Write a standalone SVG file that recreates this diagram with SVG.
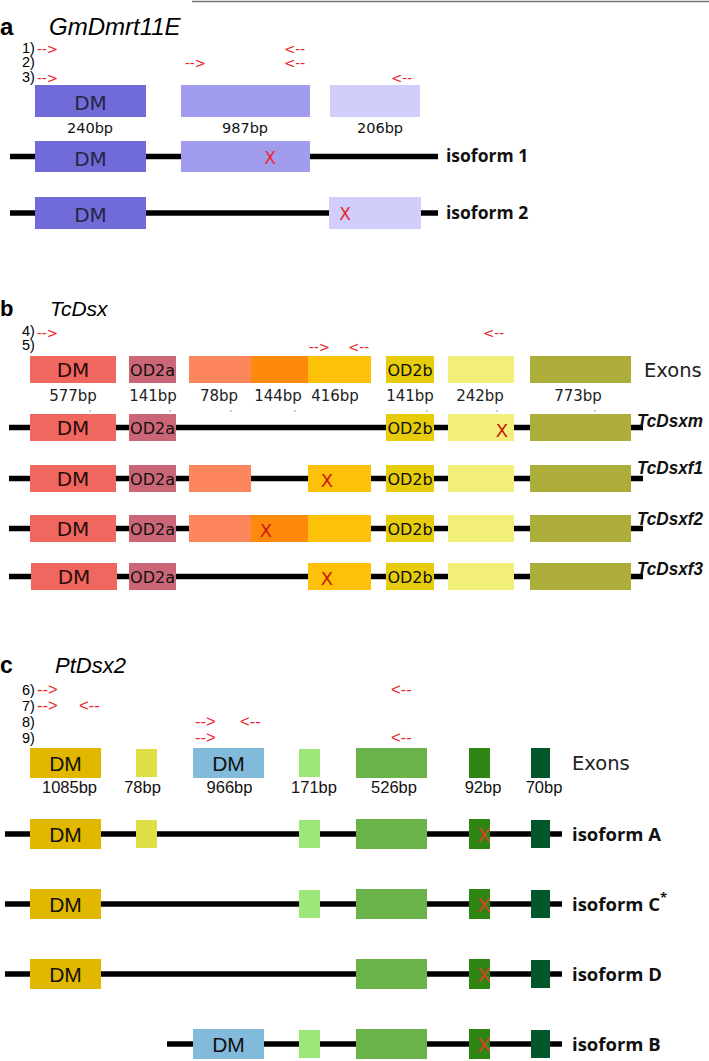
<svg xmlns="http://www.w3.org/2000/svg" width="709" height="1061" viewBox="0 0 709 1061">
<style>
.intron{stroke:#000;stroke-width:5.5;fill:none}
.panel{font-family:"Liberation Sans",Arial,sans-serif;font-weight:bold;fill:#000}
.gene{font-family:"Liberation Sans",Arial,sans-serif;font-style:italic;fill:#000}
.plab{font-family:"Liberation Sans",Arial,sans-serif;font-size:14.5px;fill:#000}
.pr{font-family:"DejaVu Sans",sans-serif;font-size:13.5px;fill:#e8232a}
.prc{font-family:"Liberation Sans",Arial,sans-serif;font-size:16.5px;fill:#e8232a}
.dv{font-family:"DejaVu Sans",sans-serif;text-anchor:middle}
.ls{font-family:"Liberation Sans",Arial,sans-serif;text-anchor:middle}
.iso{font-family:"Open Sans","Liberation Sans",sans-serif;font-weight:bold;fill:#111}
.isob{font-family:"Liberation Sans",Arial,sans-serif;font-weight:bold;font-style:italic;font-size:19px;fill:#111}
.xa{font-family:"DejaVu Sans",sans-serif;font-size:17px;fill:#e8282e;text-anchor:middle}
.xb{font-family:"DejaVu Sans",sans-serif;font-size:18px;fill:#cc1a0e;text-anchor:middle}
.xc{font-family:"Liberation Sans",Arial,sans-serif;font-size:20px;fill:#e83a28;text-anchor:middle;opacity:0.92}
.exons{font-family:"DejaVu Sans",sans-serif;font-size:19.5px;fill:#222}
.dot{fill:#999}
</style>

<line x1="192" y1="1.5" x2="709" y2="1.5" stroke="#777" stroke-width="1.5"/>

<!-- connectors: intron lines -->
<g id="connectors">
  <line class="intron" x1="10" y1="156.5" x2="438" y2="156.5"/>
  <line class="intron" x1="10" y1="213" x2="438" y2="213"/>
  <line class="intron" x1="9" y1="427.5" x2="643" y2="427.5"/>
  <line class="intron" x1="9" y1="478.5" x2="643" y2="478.5"/>
  <line class="intron" x1="9" y1="528.5" x2="643" y2="528.5"/>
  <line class="intron" x1="9" y1="576.5" x2="643" y2="576.5"/>
  <line class="intron" x1="5" y1="834" x2="562" y2="834"/>
  <line class="intron" x1="5" y1="904" x2="562" y2="904"/>
  <line class="intron" x1="5" y1="974" x2="562" y2="974"/>
  <line class="intron" x1="167" y1="1044" x2="562" y2="1044"/>
</g>

<!-- ================= Panel a ================= -->
<g id="panel-a-title">
  <text class="panel" x="0" y="35" font-size="24">a</text>
  <text class="gene" x="49" y="35" font-size="24">GmDmrt11E</text>
</g>
<g id="primers-a">
  <text class="plab" x="22" y="53">1)</text>
  <text class="plab" x="22" y="67">2)</text>
  <text class="plab" x="22" y="82">3)</text>
  <text class="pr" x="37" y="54">--&gt;</text>
  <text class="pr" x="284" y="54">&lt;--</text>
  <text class="pr" x="185" y="68">--&gt;</text>
  <text class="pr" x="284" y="68">&lt;--</text>
  <text class="pr" x="37" y="83">--&gt;</text>
  <text class="pr" x="391" y="83">&lt;--</text>
</g>
<g id="exons-a">
  <rect x="35" y="85" width="111" height="32" fill="#706BD8"/>
  <text class="dv" x="90.5" y="110" font-size="20" fill="#262640">DM</text>
  <rect x="181" y="85" width="129" height="32" fill="#A29CEE"/>
  <rect x="330" y="85" width="90" height="32" fill="#D1CEFB"/>
  <text class="dv" x="90" y="133" font-size="14.5" fill="#111">240bp</text>
  <text class="dv" x="245" y="133" font-size="14.5" fill="#111">987bp</text>
  <text class="dv" x="380" y="133" font-size="14.5" fill="#111">206bp</text>
</g>
<g id="isoform-1">
  <rect x="35" y="141" width="111" height="31" fill="#706BD8"/>
  <text class="dv" x="90.5" y="165.5" font-size="20" fill="#262640">DM</text>
  <rect x="181" y="141" width="129" height="31" fill="#A29CEE"/>
  <text class="xa" x="270" y="163.5">X</text>
  <text class="iso" x="446" y="162" font-size="17.5">isoform 1</text>
</g>
<g id="isoform-2">
  <rect x="35" y="197" width="111" height="32" fill="#706BD8"/>
  <text class="dv" x="90.5" y="222" font-size="20" fill="#262640">DM</text>
  <rect x="329" y="197" width="92" height="32" fill="#D1CEFB"/>
  <text class="xa" x="345" y="219.5">X</text>
  <text class="iso" x="446" y="219" font-size="17.5">isoform 2</text>
</g>

<!-- ================= Panel b ================= -->
<g id="panel-b-title">
  <text class="panel" x="0" y="316" font-size="22">b</text>
  <text class="gene" x="50" y="316" font-size="21">TcDsx</text>
</g>
<g id="primers-b">
  <text class="plab" x="22" y="336">4)</text>
  <text class="plab" x="22" y="350">5)</text>
  <text class="pr" x="37" y="338">--&gt;</text>
  <text class="pr" x="483" y="338">&lt;--</text>
  <text class="pr" x="309" y="352">--&gt;</text>
  <text class="pr" x="348" y="352">&lt;--</text>
</g>
<g id="exons-b">
  <rect x="30" y="356" width="86" height="27" fill="#F0675F"/>
  <rect x="129" y="356" width="47" height="27" fill="#CB6676"/>
  <rect x="189" y="356" width="62" height="27" fill="#FE865C"/>
  <rect x="251" y="356" width="57" height="27" fill="#FD8A0C"/>
  <rect x="308" y="356" width="63" height="27" fill="#FDC10A"/>
  <rect x="386" y="356" width="48" height="27" fill="#E6CC0A"/>
  <rect x="448" y="356" width="66" height="27" fill="#F2EE7A"/>
  <rect x="530" y="356" width="101" height="27" fill="#ADAD3A"/>
  <text class="dv" x="73" y="377" font-size="20" fill="#2a0c0c">DM</text>
  <text class="dv" x="152.5" y="376" font-size="16" fill="#111">OD2a</text>
  <text class="dv" x="410" y="376" font-size="16" fill="#111">OD2b</text>
  <text class="exons" x="644" y="377">Exons</text>
  <g font-size="15" fill="#222">
    <text class="dv" x="73" y="401">577bp</text>
    <text class="dv" x="153" y="401">141bp</text>
    <text class="dv" x="219" y="401">78bp</text>
    <text class="dv" x="278" y="401">144bp</text>
    <text class="dv" x="335" y="401">416bp</text>
    <text class="dv" x="410" y="401">141bp</text>
    <text class="dv" x="480" y="401">242bp</text>
    <text class="dv" x="578" y="401">773bp</text>
  </g>
  <rect class="dot" x="89.5" y="410" width="1" height="2"/>
  <rect class="dot" x="169.5" y="410" width="1" height="2"/>
  <rect class="dot" x="230.5" y="410" width="1" height="2"/>
  <rect class="dot" x="294.5" y="410" width="1" height="2"/>
  <rect class="dot" x="426.5" y="410" width="1" height="2"/>
  <rect class="dot" x="496.5" y="410" width="1" height="2"/>
  <rect class="dot" x="594.5" y="410" width="1" height="2"/>
</g>
<g id="TcDsxm">
  <rect x="30" y="414" width="86" height="27" fill="#F0675F"/>
  <rect x="129" y="414" width="47" height="27" fill="#CB6676"/>
  <rect x="386" y="414" width="48" height="27" fill="#E6CC0A"/>
  <rect x="448" y="414" width="66" height="27" fill="#F2EE7A"/>
  <rect x="530" y="414" width="101" height="27" fill="#ADAD3A"/>
  <text class="dv" x="73" y="435" font-size="20" fill="#2a0c0c">DM</text>
  <text class="dv" x="152.5" y="434" font-size="16" fill="#111">OD2a</text>
  <text class="dv" x="410" y="434" font-size="16" fill="#111">OD2b</text>
  <text class="xb" x="502" y="437">X</text>
  <text class="isob" x="637" y="427" textLength="66" lengthAdjust="spacingAndGlyphs">TcDsxm</text>
</g>
<g id="TcDsxf1">
  <rect x="30" y="465" width="86" height="27" fill="#F0675F"/>
  <rect x="129" y="465" width="47" height="27" fill="#CB6676"/>
  <rect x="189" y="465" width="62" height="27" fill="#FE865C"/>
  <rect x="308" y="465" width="63" height="27" fill="#FDC10A"/>
  <rect x="386" y="465" width="48" height="27" fill="#E6CC0A"/>
  <rect x="448" y="465" width="66" height="27" fill="#F2EE7A"/>
  <rect x="530" y="465" width="101" height="27" fill="#ADAD3A"/>
  <text class="dv" x="73" y="486" font-size="20" fill="#2a0c0c">DM</text>
  <text class="dv" x="152.5" y="485" font-size="16" fill="#111">OD2a</text>
  <text class="dv" x="410" y="485" font-size="16" fill="#111">OD2b</text>
  <text class="xb" x="327" y="487">X</text>
  <text class="isob" x="637" y="474" textLength="66" lengthAdjust="spacingAndGlyphs">TcDsxf1</text>
</g>
<g id="TcDsxf2">
  <rect x="30" y="515" width="86" height="27" fill="#F0675F"/>
  <rect x="129" y="515" width="47" height="27" fill="#CB6676"/>
  <rect x="189" y="515" width="62" height="27" fill="#FE865C"/>
  <rect x="251" y="515" width="57" height="27" fill="#FD8A0C"/>
  <rect x="308" y="515" width="63" height="27" fill="#FDC10A"/>
  <rect x="386" y="515" width="48" height="27" fill="#E6CC0A"/>
  <rect x="448" y="515" width="66" height="27" fill="#F2EE7A"/>
  <rect x="530" y="515" width="101" height="27" fill="#ADAD3A"/>
  <text class="dv" x="73" y="536" font-size="20" fill="#2a0c0c">DM</text>
  <text class="dv" x="152.5" y="535" font-size="16" fill="#111">OD2a</text>
  <text class="dv" x="410" y="535" font-size="16" fill="#111">OD2b</text>
  <text class="xb" x="266" y="537">X</text>
  <text class="isob" x="637" y="525" textLength="66" lengthAdjust="spacingAndGlyphs">TcDsxf2</text>
</g>
<g id="TcDsxf3">
  <rect x="31" y="563" width="86" height="27" fill="#F0675F"/>
  <rect x="129" y="563" width="47" height="27" fill="#CB6676"/>
  <rect x="308" y="563" width="63" height="27" fill="#FDC10A"/>
  <rect x="386" y="563" width="48" height="27" fill="#E6CC0A"/>
  <rect x="448" y="563" width="66" height="27" fill="#F2EE7A"/>
  <rect x="530" y="563" width="101" height="27" fill="#ADAD3A"/>
  <text class="dv" x="74" y="584" font-size="20" fill="#2a0c0c">DM</text>
  <text class="dv" x="152.5" y="583" font-size="16" fill="#111">OD2a</text>
  <text class="dv" x="410" y="583" font-size="16" fill="#111">OD2b</text>
  <text class="xb" x="327" y="585">X</text>
  <text class="isob" x="637" y="575" textLength="66" lengthAdjust="spacingAndGlyphs">TcDsxf3</text>
</g>

<!-- ================= Panel c ================= -->
<g id="panel-c-title">
  <text class="panel" x="0" y="673" font-size="23">c</text>
  <text class="gene" x="55" y="673" font-size="22">PtDsx2</text>
</g>
<g id="primers-c">
  <text class="plab" x="22" y="695" font-size="15.5">6)</text>
  <text class="plab" x="22" y="711" font-size="15.5">7)</text>
  <text class="plab" x="22" y="727" font-size="15.5">8)</text>
  <text class="plab" x="22" y="743" font-size="15.5">9)</text>
  <text class="prc" x="37" y="695">--&gt;</text>
  <text class="prc" x="391" y="695">&lt;--</text>
  <text class="prc" x="37" y="711">--&gt;</text>
  <text class="prc" x="79" y="711">&lt;--</text>
  <text class="prc" x="195" y="727">--&gt;</text>
  <text class="prc" x="240" y="727">&lt;--</text>
  <text class="prc" x="195" y="743">--&gt;</text>
  <text class="prc" x="391" y="743">&lt;--</text>
</g>
<g id="exons-c">
  <rect x="30" y="748" width="71" height="30" fill="#E2B700"/>
  <rect x="136" y="749" width="21" height="28" fill="#DEDE45"/>
  <rect x="193" y="748" width="71" height="30" fill="#82BADB"/>
  <rect x="299" y="749" width="21" height="28" fill="#9DE67A"/>
  <rect x="356" y="748" width="71" height="30" fill="#6AB34B"/>
  <rect x="469" y="748" width="21" height="30" fill="#2F8512"/>
  <rect x="531" y="748" width="19" height="30" fill="#02582A"/>
  <text class="ls" x="65.5" y="771" font-size="21" fill="#111">DM</text>
  <text class="ls" x="228.5" y="771" font-size="21" fill="#111">DM</text>
  <text class="exons" x="572" y="770">Exons</text>
  <g font-size="16.5" fill="#111">
    <text class="ls" x="69.5" y="793">1085bp</text>
    <text class="ls" x="142.5" y="793">78bp</text>
    <text class="ls" x="229.5" y="793">966bp</text>
    <text class="ls" x="314" y="793">171bp</text>
    <text class="ls" x="394" y="793">526bp</text>
    <text class="ls" x="483" y="793">92bp</text>
    <text class="ls" x="544" y="793">70bp</text>
  </g>
</g>
<g id="isoform-A">
  <rect x="30" y="819" width="71" height="30" fill="#E2B700"/>
  <rect x="136" y="820" width="21" height="28" fill="#DEDE45"/>
  <rect x="299" y="820" width="21" height="28" fill="#9DE67A"/>
  <rect x="356" y="819" width="71" height="30" fill="#6AB34B"/>
  <rect x="469" y="819" width="21" height="30" fill="#2F8512"/>
  <rect x="531" y="820" width="19" height="28" fill="#02582A"/>
  <text class="ls" x="65.5" y="842" font-size="21" fill="#111">DM</text>
  <text class="xc" x="484" y="842">X</text>
  <text class="iso" x="572" y="841" font-size="18.5">isoform A</text>
</g>
<g id="isoform-C">
  <rect x="30" y="889" width="71" height="30" fill="#E2B700"/>
  <rect x="299" y="890" width="21" height="28" fill="#9DE67A"/>
  <rect x="356" y="889" width="71" height="30" fill="#6AB34B"/>
  <rect x="469" y="889" width="21" height="30" fill="#2F8512"/>
  <rect x="531" y="890" width="19" height="28" fill="#02582A"/>
  <text class="ls" x="65.5" y="912" font-size="21" fill="#111">DM</text>
  <text class="xc" x="484" y="912">X</text>
  <text class="iso" x="572" y="911" font-size="18.5">isoform C<tspan font-size="13" dy="-9">*</tspan></text>
</g>
<g id="isoform-D">
  <rect x="30" y="959" width="71" height="30" fill="#E2B700"/>
  <rect x="356" y="959" width="71" height="30" fill="#6AB34B"/>
  <rect x="469" y="959" width="21" height="30" fill="#2F8512"/>
  <rect x="531" y="960" width="19" height="28" fill="#02582A"/>
  <text class="ls" x="65.5" y="982" font-size="21" fill="#111">DM</text>
  <text class="xc" x="484" y="982">X</text>
  <text class="iso" x="572" y="981" font-size="18.5">isoform D</text>
</g>
<g id="isoform-B">
  <rect x="193" y="1029" width="71" height="30" fill="#82BADB"/>
  <rect x="299" y="1030" width="21" height="28" fill="#9DE67A"/>
  <rect x="356" y="1029" width="71" height="30" fill="#6AB34B"/>
  <rect x="469" y="1029" width="21" height="30" fill="#2F8512"/>
  <rect x="531" y="1030" width="19" height="28" fill="#02582A"/>
  <text class="ls" x="228.5" y="1052" font-size="21" fill="#111">DM</text>
  <text class="xc" x="484" y="1052">X</text>
  <text class="iso" x="572" y="1051" font-size="18.5">isoform B</text>
</g>
</svg>
